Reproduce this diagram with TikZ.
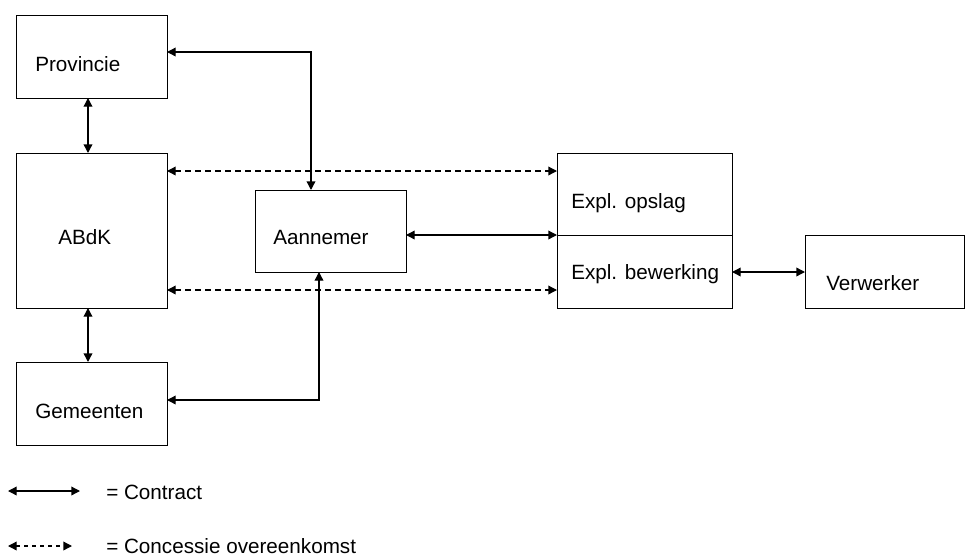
\documentclass[tikz,border=0pt]{standalone}
\usepackage{fontspec}
\setmainfont{Liberation Sans}
\usetikzlibrary{arrows.meta}

\tikzset{
  box/.style={draw, line width=0.75pt, anchor=north west, inner sep=0pt, outer sep=0pt},
  txt/.style={anchor=base west, inner sep=0pt, font=\fontsize{15.5}{18}\selectfont},
  contract/.style={line width=1pt, {Triangle[length=6.5pt,width=6.5pt]}-{Triangle[length=6.5pt,width=6.5pt]}},
  concessie/.style={contract, dash pattern=on 4.5pt off 3pt},
}

\begin{document}
\begin{tikzpicture}[x=0.75pt,y=-0.75pt]

\useasboundingbox (0,0) rectangle (965,557);

% boxes
\node[box, minimum width=113.25pt, minimum height=62.25pt]  (prov)    at (16,15)   {};
\node[box, minimum width=113.25pt, minimum height=116.25pt] (abdk)    at (16,153)  {};
\node[box, minimum width=113.25pt, minimum height=62.25pt]  (gem)     at (16,362)  {};
\node[box, minimum width=113.25pt, minimum height=61.5pt]   (aan)     at (255,190) {};
\node[box, minimum width=131.25pt, minimum height=61.5pt]   (opslag)  at (557,153) {};
\node[box, minimum width=131.25pt, minimum height=54.75pt]  (bewerk)  at (557,235) {};
\node[box, minimum width=119.25pt, minimum height=54.75pt]  (verw)    at (805,235) {};

% texts
\node[txt] (provtxt)   at (35,71)   {Provincie};
\node[txt] (abdktxt)   at (58,244)  {ABdK};
\node[txt] (gemtxt)    at (35,418)  {Gemeenten};
\node[txt] (aantxt)    at (273,244) {Aannemer};
\node[txt] (opslagtxt) at (571,208) {Expl. opslag};
\node[txt] (bewerktxt) at (571,279) {Expl. bewerking};
\node[txt] (verwtxt)   at (826,290) {Verwerker};

% contracts
\draw[contract] (prov.south -| 88,0) -- (abdk.north -| 88,0);
\draw[contract] (abdk.south -| 88,0) -- (gem.north -| 88,0);
\draw[contract] (prov.east |- 0,52) -| (aan.north -| 311,0);
\draw[contract] (gem.east |- 0,400) -| (aan.south -| 319,0);
\draw[contract] (aan.east |- 0,235) -- (opslag.south west);
\draw[contract] (bewerk.east |- 0,272) -- (verw.west |- 0,272);

% concessies
\draw[concessie] (abdk.east |- 0,171) -- (opslag.west |- 0,171);
\draw[concessie] (abdk.east |- 0,290) -- (bewerk.west |- 0,290);

% legend
\coordinate (c1) at (8,491);
\coordinate (c2) at (80,491);
\coordinate (d1) at (8,546);
\coordinate (d2) at (72,546);
\draw[contract] (c1) -- (c2);
\draw[concessie, dash pattern=on 3pt off 3pt] (d1) -- (d2);
\node[txt] (contracttxt)  at (106,499) {= Contract};
\node[txt] (concessietxt) at (106,553) {= Concessie overeenkomst};

\end{tikzpicture}
\end{document}
